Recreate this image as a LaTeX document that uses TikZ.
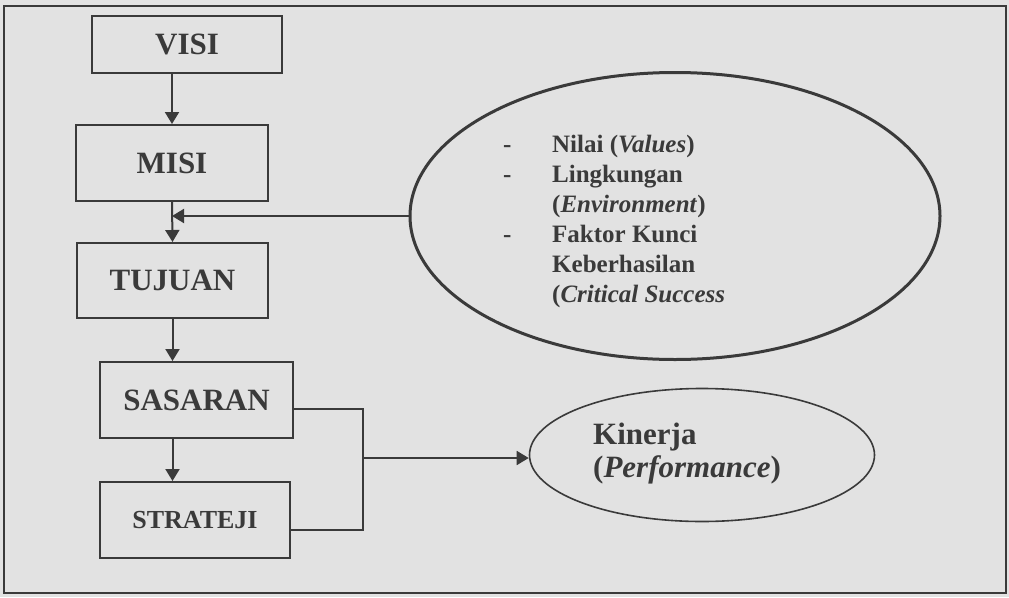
\documentclass[tikz,border=0pt]{standalone}
\usepackage{fontspec}
\usepackage{tikz}
\usetikzlibrary{arrows.meta,shapes.geometric}
\setmainfont{Liberation Serif}
\definecolor{papergray}{RGB}{226,226,226}
\definecolor{inkgray}{RGB}{58,58,58}

\begin{document}
\begin{tikzpicture}[x=1pt,y=-1pt,
  stagebox/.style={draw=inkgray,line width=2pt,text=inkgray,inner sep=0pt,
    font=\bfseries\fontsize{31}{33}\selectfont},
  flow/.style={draw=inkgray,line width=2pt,-{Triangle[length=12pt,width=14pt]}},
  link/.style={draw=inkgray,line width=1.8pt}]
% Paper and frame
\fill[papergray] (0,0) rectangle (1009,597);
\useasboundingbox (0,0) rectangle (1009,597);
\draw[inkgray,line width=2pt] (4,6) rectangle (1006,593);
% Stages
\node[stagebox,minimum width=190pt,minimum height=57pt] (visi) at (187,44) {VISI};
\node[stagebox,minimum width=192pt,minimum height=76pt] (misi) at (172,163) {MISI};
\node[stagebox,minimum width=191pt,minimum height=75pt] (tujuan) at (172.5,280.5) {TUJUAN};
\node[stagebox,minimum width=193pt,minimum height=76pt] (sasaran) at (196.5,400) {SASARAN};
\node[stagebox,minimum width=190pt,minimum height=76pt,
  font=\bfseries\fontsize{26}{28}\selectfont] (strateji) at (195,520) {STRATEJI};
% Outer factors
\node[ellipse,draw=inkgray,line width=3pt,minimum width=530pt,minimum height=287pt,
  inner sep=0pt] (faktor) at (675,216) {};
\node[anchor=base west,inner sep=0pt,text=inkgray,
  font=\bfseries\fontsize{25}{30}\selectfont] (faktorlist) at (503,152)
  {\begin{tabular}[t]{@{}p{49pt}@{}l@{}}
   - & Nilai (\textit{Values})\\
   - & Lingkungan\\
     & (\textit{Environment})\\
   - & Faktor Kunci\\
     & Keberhasilan\\
     & (\textit{Critical Success}
   \end{tabular}};
% Performance
\node[ellipse,draw=inkgray,line width=1.6pt,minimum width=345pt,minimum height=133pt,
  inner sep=0pt] (kinerja) at (702,455) {};
\node[anchor=base west,inner sep=0pt,text=inkgray,
  font=\bfseries\fontsize{31}{33}\selectfont] (kinerjatext) at (593,444)
  {\begin{tabular}[t]{@{}l@{}}Kinerja\\(\textit{Performance})\end{tabular}};
% Flow arrows
\draw[flow] (visi.south -| misi.north) -- (misi.north);
\draw[flow] (misi.south) -- (tujuan.north);
\coordinate (join) at (misi.south |- faktor.west);
\draw[flow] (faktor.west) -- (join);
\draw[flow] (tujuan.south) -- (tujuan.south |- sasaran.north);
\draw[flow] (sasaran.south -| tujuan.south) -- (strateji.north -| tujuan.south);
% Bracket to performance
\coordinate (brtop) at (363,409);
\coordinate (brbot) at (363,530);
\coordinate (brmid) at (363,458);
\draw[link] (sasaran.east |- brtop) -- (brtop) -- (brbot) -- (strateji.east |- brbot);
\draw[flow,line width=1.8pt] (brmid) -- (kinerja.west |- brmid);
\end{tikzpicture}
\end{document}
